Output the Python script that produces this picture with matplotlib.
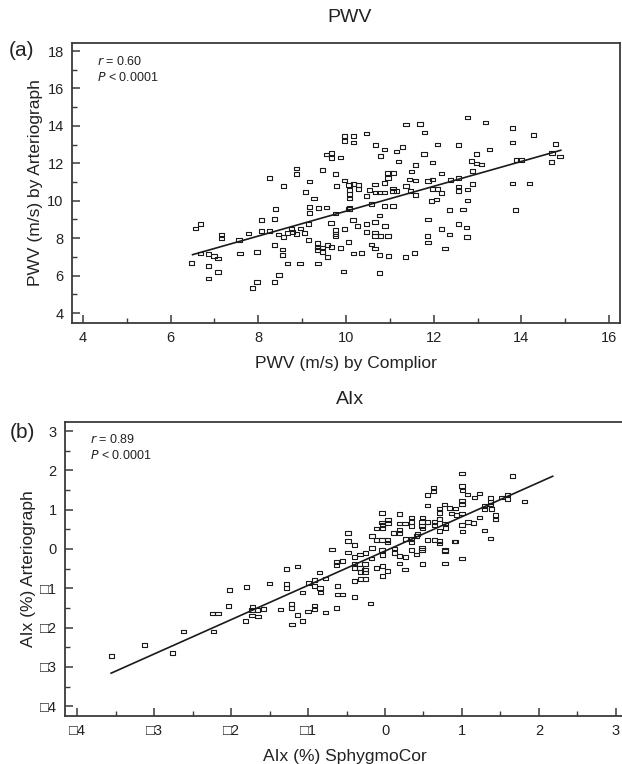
import matplotlib
matplotlib.use("Agg")
import matplotlib.pyplot as plt
import numpy as np
from matplotlib.ticker import MultipleLocator, FixedLocator

plt.rcParams['font.family'] = ['Liberation Sans', 'DejaVu Sans']

# ---------------- Panel (a): PWV ----------------
pwv_complior = [
    6.57, 6.68, 7.16, 7.16, 6.48, 6.68, 6.87, 6.99, 7.08, 6.87, 7.08, 6.87,
    7.56, 7.58, 7.78, 7.97, 8.07, 8.07, 8.26, 8.37, 8.39, 8.36, 8.46, 8.56,
    8.56, 8.58, 8.66, 8.75, 8.78, 8.87, 8.96, 9.06, 9.14, 9.15, 9.16, 9.16,
    9.37, 9.55, 9.35, 9.35, 9.35, 9.46, 9.47, 9.57, 9.57, 9.67, 9.66, 9.76,
    9.76, 9.76, 9.76, 9.87, 9.95, 9.97, 10.06, 10.07, 10.08, 10.16, 10.17, 10.27,
    10.35, 10.46, 10.46, 10.46, 10.07, 10.08, 10.08, 10.08, 10.17, 10.29, 10.29, 9.97,
    9.78, 9.76, 9.46, 9.27, 9.07, 9.17, 8.87, 8.88, 8.57, 8.26, 9.55, 9.67,
    9.67, 9.87, 9.97, 9.97, 10.17, 10.17, 10.46, 8.66, 8.95, 9.36, 8.47, 8.36,
    7.97, 7.87,
    11.37, 11.69, 11.79, 12.78, 13.18, 13.79, 14.28, 10.67, 10.88, 10.79, 11.16, 11.29,
    11.20, 11.58, 11.78, 12.08, 11.97, 12.57, 12.97, 13.27, 13.79, 12.86, 12.97, 13.09,
    12.88, 13.88, 13.99, 14.77, 14.70, 14.88, 14.68, 11.49, 10.96, 11.07, 10.96, 10.87,
    10.66, 11.45, 11.58, 11.37, 11.87, 11.97, 12.17, 12.38, 12.57, 12.57, 12.57, 12.77,
    12.88, 13.79, 14.18, 11.07, 11.07, 11.16, 11.48, 11.58, 11.97, 12.08, 12.17, 10.54,
    10.67, 10.77, 10.88, 10.58, 10.87, 11.07, 11.95, 12.06, 12.77, 12.36, 12.67, 13.86,
    10.77, 10.66, 10.89, 11.87, 12.18, 12.36, 12.56, 12.75, 12.76, 10.66, 10.66, 10.78,
    10.96, 11.86, 11.87, 10.58, 10.66, 10.77, 10.97, 11.36, 11.56, 12.26, 10.76,
]
pwv_arteriograph = [
    8.52, 8.75, 8.20, 7.98, 6.68, 7.18, 7.15, 7.06, 6.91, 6.50, 6.20, 5.84,
    7.89, 7.18, 8.25, 7.25, 8.96, 8.37, 8.39, 9.02, 9.55, 7.63, 8.20, 7.39,
    7.11, 8.07, 8.29, 8.50, 8.34, 8.22, 8.52, 8.29, 8.75, 7.89, 9.66, 9.34,
    9.62, 9.64, 7.75, 7.50, 7.36, 7.50, 7.27, 7.63, 7.00, 7.54, 8.82, 9.32,
    8.43, 8.22, 8.11, 7.48, 6.22, 8.50, 7.80, 9.57, 9.64, 8.96, 7.18, 8.65,
    7.22, 8.75, 8.34, 10.25, 10.83, 10.57, 10.35, 10.12, 10.89, 10.83, 10.62, 11.08,
    10.80, 11.42, 11.64, 10.12, 10.46, 11.03, 11.73, 11.42, 10.80, 11.21, 12.47, 12.56,
    12.30, 12.31, 13.45, 13.21, 13.45, 13.12, 13.60, 6.65, 6.65, 6.65, 6.02, 5.67,
    5.67, 5.33,
    14.08, 14.10, 13.65, 14.45, 14.19, 13.90, 13.51, 12.97, 12.74, 12.40, 12.63, 12.88,
    12.10, 11.90, 12.49, 13.01, 12.05, 12.99, 12.49, 12.74, 13.12, 12.14, 11.99, 11.94,
    11.60, 12.17, 12.17, 13.03, 12.56, 12.37, 12.07, 11.57, 11.48, 11.48, 11.21, 10.96,
    10.87, 11.14, 11.08, 10.80, 11.07, 11.14, 11.46, 11.12, 11.23, 10.76, 10.53, 10.60,
    10.91, 10.92, 10.92, 10.66, 10.51, 10.51, 10.53, 10.32, 10.62, 10.62, 10.42, 10.57,
    10.44, 10.44, 10.44, 9.82, 9.73, 9.73, 9.98, 10.07, 10.01, 9.50, 9.53, 9.50,
    9.21, 8.86, 8.64, 9.00, 8.48, 8.20, 8.77, 8.57, 8.07, 8.30, 8.11, 8.11,
    8.11, 8.12, 7.77, 7.66, 7.45, 7.09, 7.04, 7.00, 7.22, 7.45, 6.15,
]
fit_a_x = [6.50, 14.90]
fit_a_y = [7.12, 12.70]

# ---------------- Panel (b): AIx ----------------
aix_sphygmocor = [
    -3.56, -3.13, -2.76, -2.62, -2.24, -2.17, -2.23, -2.02, -2.03, -1.80, -1.81, -1.72,
    -1.73, -1.66, -1.58, -1.73, -1.65, -1.50, -1.355, -1.28, -1.28, -1.28, -1.22, -1.22,
    -1.21, -1.14, -1.135, -1.07, -1.07, -1.00, -0.995, -0.92, -0.92, -0.92, -0.92, -0.85,
    -0.845, -0.84, -0.77, -0.77,
    1.00, 1.66, 1.00, 1.01, 0.63, 0.63, 0.55, 1.07, 1.16, 1.23, 1.00, 1.00,
    0.55, 0.77, 0.71, 0.71, 0.84, 0.92, 0.86, 0.93, 1.00, 1.37, 1.37, 1.37,
    1.295, 1.29, 1.38, 1.52, 1.59, 1.59, 1.81, 1.44, 1.44, 1.23, 1.15, 1.08,
    1.00, 1.01, 1.29, 1.37, 1.00, 0.92, 0.90, 0.78, 0.78, 0.78, 0.79, 0.78,
    0.71, 0.71, 0.71, 0.71, 0.64, 0.55, 0.64, 0.64, 0.55, 0.49, 0.48, 0.48,
    0.49, 0.42, 0.34, 0.34, 0.34, 0.26, 0.19, 0.19, 0.04, 0.04, -0.04, -0.04,
    -0.03, -0.03, -0.11, -0.17, -0.11, -0.04, 0.03, 0.03, 0.11, 0.19, 0.19, 0.27,
    0.34, 0.34, 0.41, 0.48, 0.48, 0.41, 0.34, 0.27, 0.19, 0.12, 0.12, 0.19,
    0.26, 0.49, -0.17, -0.04, -0.03, -0.11, -0.03, 0.03, -0.03, -0.18, -0.25, -0.325,
    -0.40, -0.40, -0.48, -0.48, -0.48, -0.40, -0.69, -0.55, -0.63, -0.63, -0.40, -0.325,
    -0.32, -0.26, -0.26, -0.26, -0.32, -0.25, -0.40, -0.62, -0.62, -0.55, -0.40, -0.19,
    -0.63,
]
aix_arteriograph = [
    -2.73, -2.44, -2.64, -2.10, -1.64, -1.64, -2.10, -1.05, -1.45, -0.96, -1.84, -1.47,
    -1.55, -1.55, -1.52, -1.69, -1.72, -0.88, -1.54, -0.51, -0.89, -1.00, -1.40, -1.51,
    -1.92, -1.68, -0.45, -1.83, -1.11, -1.59, -0.86, -0.79, -0.94, -1.44, -1.54, -0.60,
    -0.99, -1.11, -0.75, -1.62,
    1.92, 1.85, 1.60, 1.49, 1.56, 1.46, 1.38, 1.39, 1.31, 1.41, 1.23, 1.13,
    1.11, 1.13, 1.03, 0.92, 1.05, 1.03, 0.90, 0.86, 0.90, 1.29, 1.20, 1.13,
    1.09, 1.01, 1.01, 1.31, 1.39, 1.27, 1.21, 0.86, 0.75, 0.80, 0.66, 0.69,
    0.61, 0.44, 0.47, 0.27, -0.24, 0.19, 0.19, -0.03, -0.05, -0.37, 0.54, 0.65,
    0.76, 0.46, 0.21, 0.14, 0.23, 0.23, 0.61, 0.69, 0.69, 0.80, 0.69, 0.58,
    0.52, 0.38, 0.80, 0.69, 0.59, 0.65, 0.65, 0.89, 0.75, 0.65, 0.92, 0.67,
    0.61, 0.54, 0.52, 0.33, 0.23, 0.23, 0.23, 0.16, 0.41, 0.48, 0.40, 0.25,
    0.27, 0.16, 0.33, 0.03, -0.03, -0.14, -0.03, -0.21, -0.18, -0.11, 0.01, -0.37,
    -0.52, -0.39, 0.03, -0.03, -0.16, -0.49, -0.44, -0.56, -0.69, -0.24, -0.11, -0.14,
    -0.21, -0.37, -0.09, 0.21, 0.41, 0.10, -0.01, -0.31, -0.33, -0.41, -0.49, -0.49,
    -0.58, -0.52, -0.60, -0.39, -0.77, -0.77, -0.82, -0.94, -1.16, -1.16, -1.23, -1.39,
    -1.50,
]
fit_b_x = [-3.56, 2.18]
fit_b_y = [-3.16, 1.85]

a_xticks = [4, 6, 8, 10, 12, 14, 16]
a_yticks = [4, 6, 8, 10, 12, 14, 16, 18]
b_ticks = [-4, -3, -2, -1, 0, 1, 2, 3]
BOX = "\u25a1"


def neg_label(v):
    return (BOX + str(abs(v))) if v < 0 else str(v)


W, H = 622, 764
fig = plt.figure(figsize=(W / 100, H / 100), dpi=100)

rect = [(-1, -0.7), (1, -0.7), (1, 0.7), (-1, 0.7), (-1, -0.7)]
spine_c = '#3a3a3a'
txt_c = '#222222'


def style_axes(ax):
    for s in ax.spines.values():
        s.set_linewidth(1.3)
        s.set_color(spine_c)
    ax.tick_params(which='major', direction='in', length=6, width=1.1,
                   color=spine_c, labelsize=10.5, labelcolor=txt_c, pad=6)
    ax.tick_params(which='minor', direction='in', length=3.5, width=1.0,
                   color=spine_c)
    ax.tick_params(top=False, right=False, which='both')


# Panel (a)
axa = fig.add_axes([72 / W, 1 - 323 / H, 548 / W, 280 / H])
axa.scatter(pwv_complior, pwv_arteriograph, marker=rect, s=14,
            facecolors='none', edgecolors='#1a1a1a', linewidths=0.8, zorder=3)
axa.plot(fit_a_x, fit_a_y, color='#1a1a1a', lw=1.2, zorder=2)
axa.set_xlim(3.75, 16.25)
axa.set_ylim(3.47, 18.43)
axa.xaxis.set_major_locator(FixedLocator(a_xticks))
axa.yaxis.set_major_locator(FixedLocator(a_yticks))
axa.xaxis.set_minor_locator(MultipleLocator(1))
axa.yaxis.set_minor_locator(MultipleLocator(1))
axa.set_xticklabels([str(v) for v in a_xticks])
axa.set_yticklabels([str(v) for v in a_yticks])
style_axes(axa)
axa.set_xlabel('PWV (m/s) by Complior', fontsize=12.5, color=txt_c, labelpad=8)
axa.set_ylabel('PWV (m/s) by Arteriograph', fontsize=12.5, color=txt_c, labelpad=3)
axa.text(0.045, 0.935, r'$\it{r}$ = 0.60', transform=axa.transAxes,
         fontsize=9, color=txt_c, va='center', ha='left')
axa.text(0.045, 0.878, r'$\it{P}$ < 0.0001', transform=axa.transAxes,
         fontsize=9, color=txt_c, va='center', ha='left')
fig.text(350 / W, 1 - 18 / H, 'PWV', fontsize=14, ha='center', va='center', color=txt_c)
fig.text(22 / W, 1 - 50 / H, '(a)', fontsize=15, ha='center', va='center', color=txt_c)

# Panel (b)
axb = fig.add_axes([65 / W, 1 - 716 / H, 560 / W, 294 / H])
axb.scatter(aix_sphygmocor, aix_arteriograph, marker=rect, s=14,
            facecolors='none', edgecolors='#1a1a1a', linewidths=0.8, zorder=3)
axb.plot(fit_b_x, fit_b_y, color='#1a1a1a', lw=1.2, zorder=2)
axb.set_xlim(-4.16, 3.12)
axb.set_ylim(-4.25, 3.23)
axb.xaxis.set_major_locator(FixedLocator(b_ticks))
axb.yaxis.set_major_locator(FixedLocator(b_ticks))
axb.xaxis.set_minor_locator(MultipleLocator(0.5))
axb.yaxis.set_minor_locator(MultipleLocator(0.5))
axb.set_xticklabels([neg_label(v) for v in b_ticks])
axb.set_yticklabels([neg_label(v) for v in b_ticks])
style_axes(axb)
for lab in axb.get_xticklabels() + axb.get_yticklabels():
    lab.set_family(['Liberation Sans', 'DejaVu Sans'])
    lab.set_fontsize(10.5)
axb.set_xlabel('AIx (%) SphygmoCor', fontsize=12.5, color=txt_c, labelpad=8)
axb.set_ylabel('AIx (%) Arteriograph', fontsize=12.5, color=txt_c, labelpad=3)
axb.text(0.045, 0.94, r'$\it{r}$ = 0.89', transform=axb.transAxes,
         fontsize=9, color=txt_c, va='center', ha='left')
axb.text(0.045, 0.885, r'$\it{P}$ < 0.0001', transform=axb.transAxes,
         fontsize=9, color=txt_c, va='center', ha='left')
fig.text(350 / W, 1 - 400 / H, 'AIx', fontsize=14, ha='center', va='center', color=txt_c)
fig.text(22 / W, 1 - 432 / H, '(b)', fontsize=15, ha='center', va='center', color=txt_c)

fig.savefig('out.png', dpi=100)
